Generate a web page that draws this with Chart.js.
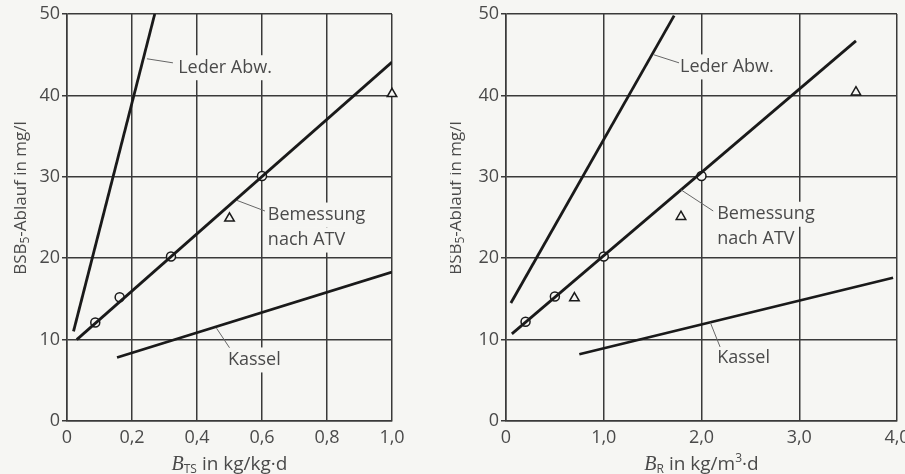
<!DOCTYPE html>
<html>
<head>
<meta charset="utf-8">
<script src="https://cdn.jsdelivr.net/npm/chart.js@4"></script>
<style>
  html, body { margin: 0; padding: 0; width: 905px; height: 474px; overflow: hidden; background: #f6f6f3; }
  canvas { position: absolute; top: 0; }
  #c1 { left: 0; }
  #c2 { left: 450px; }
</style>
</head>
<body>
<canvas id="c1" width="450" height="474"></canvas>
<canvas id="c2" width="480" height="474"></canvas>
<script>
// ---- shared y axis: BSB5 effluent in mg/l ----
const yTicks = [0, 10, 20, 30, 40, 50];

// ---- left panel: sludge loading B_TS ----
const btsTicks = [0, 0.2, 0.4, 0.6, 0.8, 1.0];
const btsLeder = [{ x: 0.02, y: 11 }, { x: 0.27, y: 50 }];
const btsAtv = [{ x: 0.03, y: 10 }, { x: 1.0, y: 44.1 }];
const btsAtvPts = [{ x: 0.087, y: 12.1 }, { x: 0.162, y: 15.2 }, { x: 0.32, y: 20.2 }, { x: 0.6, y: 30.1 }];
const btsTri = [{ x: 0.5, y: 24.9 }, { x: 1.0, y: 40.2 }];
const btsKassel = [{ x: 0.154, y: 7.8 }, { x: 1.0, y: 18.3 }];

// ---- right panel: volumetric loading B_R ----
const brTicks = [0, 1, 2, 3, 4];
const brLeder = [{ x: 0.05, y: 14.5 }, { x: 1.72, y: 49.8 }];
const brAtv = [{ x: 0.06, y: 10.7 }, { x: 3.58, y: 46.7 }];
const brAtvPts = [{ x: 0.2, y: 12.2 }, { x: 0.5, y: 15.3 }, { x: 1.0, y: 20.2 }, { x: 2.0, y: 30.1 }];
const brTri = [{ x: 0.7, y: 15.1 }, { x: 1.79, y: 25.1 }, { x: 3.58, y: 40.4 }];
const brKassel = [{ x: 0.75, y: 8.2 }, { x: 3.96, y: 17.6 }];

const BG = '#f6f6f3';
const INK = '#1a1a1a';
const GRID = '#3a3a3a';
const TXT = '#4a4a4a';
const SANS = '"Open Sans", sans-serif';

const fmt = v => v === 0 ? '0' : v.toFixed(1).replace('.', ',');

// curve labels with leader lines; a paper-coloured box hides the grid behind the text
const curveNotes = {
  id: 'curveNotes',
  afterDatasetsDraw(chart, args, opts) {
    const { ctx, scales: { x, y } } = chart;
    ctx.save();
    ctx.font = '18px ' + SANS;
    ctx.textBaseline = 'middle';
    const lh = 25;
    opts.items.forEach(it => {
      const px = x.getPixelForValue(it.x), py = y.getPixelForValue(it.y);
      it.lines.forEach((t, i) => {
        const w = ctx.measureText(t).width;
        ctx.fillStyle = BG;
        ctx.fillRect(px - 3, py + i * lh - lh / 2, w + 6, lh);
      });
      ctx.strokeStyle = '#666';
      ctx.lineWidth = 1;
      ctx.beginPath();
      ctx.moveTo(x.getPixelForValue(it.from[0]), y.getPixelForValue(it.from[1]));
      ctx.lineTo(x.getPixelForValue(it.to[0]), y.getPixelForValue(it.to[1]));
      ctx.stroke();
      ctx.fillStyle = TXT;
      it.lines.forEach((t, i) => ctx.fillText(t, px, py + i * lh));
    });
    ctx.restore();
  },
};

// axis titles with sub/superscripts
function drawRuns(ctx, runs, cx, cy) {
  let total = 0;
  runs.forEach(r => { ctx.font = r.font; total += ctx.measureText(r.t).width; });
  let xx = cx - total / 2;
  runs.forEach(r => {
    ctx.font = r.font;
    ctx.fillText(r.t, xx, cy + (r.dy || 0));
    xx += ctx.measureText(r.t).width;
  });
}

const axisTitles = {
  id: 'axisTitles',
  afterDraw(chart, args, opts) {
    const { ctx, chartArea: a } = chart;
    ctx.save();
    ctx.fillStyle = TXT;
    ctx.textBaseline = 'middle';
    drawRuns(ctx, opts.x, (a.left + a.right) / 2, 465);
    ctx.translate(a.left + opts.yOff, 198);
    ctx.rotate(-Math.PI / 2);
    drawRuns(ctx, [
      { t: 'BSB', font: '17px ' + SANS },
      { t: '5', font: '12px ' + SANS, dy: 5 },
      { t: '-Ablauf in mg/l', font: '17px ' + SANS },
    ], 0, 0);
    ctx.restore();
  },
};

function lineSet(data) {
  return { type: 'line', data, borderColor: INK, borderWidth: 2.8, pointRadius: 0, fill: false };
}
function markSet(data, style, r) {
  return {
    type: 'line', data, showLine: false, clip: false, pointStyle: style, pointRadius: r,
    pointBackgroundColor: BG, pointBorderColor: INK, pointBorderWidth: 1.5,
  };
}

function makeChart(id, cfg) {
  return new Chart(document.getElementById(id), {
    data: {
      datasets: [
        lineSet(cfg.leder), lineSet(cfg.atv), lineSet(cfg.kassel),
        markSet(cfg.atvPts, 'circle', 4.5), markSet(cfg.tri, 'triangle', 5.5),
      ],
    },
    plugins: [curveNotes, axisTitles],
    options: {
      responsive: false, animation: false, devicePixelRatio: 1,
      layout: { padding: { top: 14, right: cfg.padRight, left: 0, bottom: 0 } },
      plugins: {
        legend: { display: false }, tooltip: { enabled: false },
        curveNotes: { items: cfg.notes },
        axisTitles: { x: cfg.xTitle, yOff: cfg.yOff },
      },
      scales: {
        x: {
          type: 'linear', min: 0, max: cfg.xTicks[cfg.xTicks.length - 1],
          afterBuildTicks: s => { s.ticks = cfg.xTicks.map(v => ({ value: v })); },
          afterFit: s => { s.height = 53; s.paddingLeft = 0; s.paddingRight = 0; },
          ticks: { color: TXT, font: { size: 18, family: SANS }, padding: 6, maxRotation: 0, callback: fmt },
          grid: { color: GRID, lineWidth: 1.5, drawTicks: false },
          border: { color: GRID, width: 1.5 },
        },
        y: {
          type: 'linear', min: 0, max: 50,
          afterBuildTicks: s => { s.ticks = yTicks.map(v => ({ value: v })); },
          afterFit: s => { s.width = cfg.yWidth; s.paddingTop = 0; s.paddingBottom = 0; },
          ticks: { color: TXT, font: { size: 18, family: SANS }, padding: 2 },
          grid: { color: GRID, lineWidth: 1.5, tickLength: 5 },
          border: { color: GRID, width: 1.5 },
        },
      },
    },
  });
}

makeChart('c1', {
  leder: btsLeder, atv: btsAtv, kassel: btsKassel, atvPts: btsAtvPts, tri: btsTri,
  xTicks: btsTicks, yWidth: 67, padRight: 58, yOff: -46,
  xTitle: [
    { t: 'B', font: 'italic 20px "Liberation Serif", serif' },
    { t: 'TS', font: '12px ' + SANS, dy: 5 },
    { t: ' in kg/kg\u00b7d', font: '19px ' + SANS },
  ],
  notes: [
    { lines: ['Leder Abw.'], x: 0.342, y: 43.4, from: [0.246, 44.5], to: [0.326, 44.0] },
    { lines: ['Bemessung', 'nach ATV'], x: 0.618, y: 25.3, from: [0.523, 27.1], to: [0.609, 25.8] },
    { lines: ['Kassel'], x: 0.495, y: 7.5, from: [0.46, 11.4], to: [0.50, 9.0] },
  ],
});

makeChart('c2', {
  leder: brLeder, atv: brAtv, kassel: brKassel, atvPts: brAtvPts, tri: brTri,
  xTicks: brTicks, yWidth: 56, padRight: 33, yOff: -50,
  xTitle: [
    { t: 'B', font: 'italic 20px "Liberation Serif", serif' },
    { t: 'R', font: '12px ' + SANS, dy: 5 },
    { t: ' in kg/m', font: '19px ' + SANS },
    { t: '3', font: '12px ' + SANS, dy: -6 },
    { t: '\u00b7d', font: '19px ' + SANS },
  ],
  notes: [
    { lines: ['Leder Abw.'], x: 1.78, y: 43.5, from: [1.51, 45.0], to: [1.77, 44.0] },
    { lines: ['Bemessung', 'nach ATV'], x: 2.16, y: 25.4, from: [1.79, 28.4], to: [2.12, 25.8] },
    { lines: ['Kassel'], x: 2.16, y: 7.7, from: [2.09, 12.1], to: [2.19, 9.1] },
  ],
});
</script>
</body>
</html>
